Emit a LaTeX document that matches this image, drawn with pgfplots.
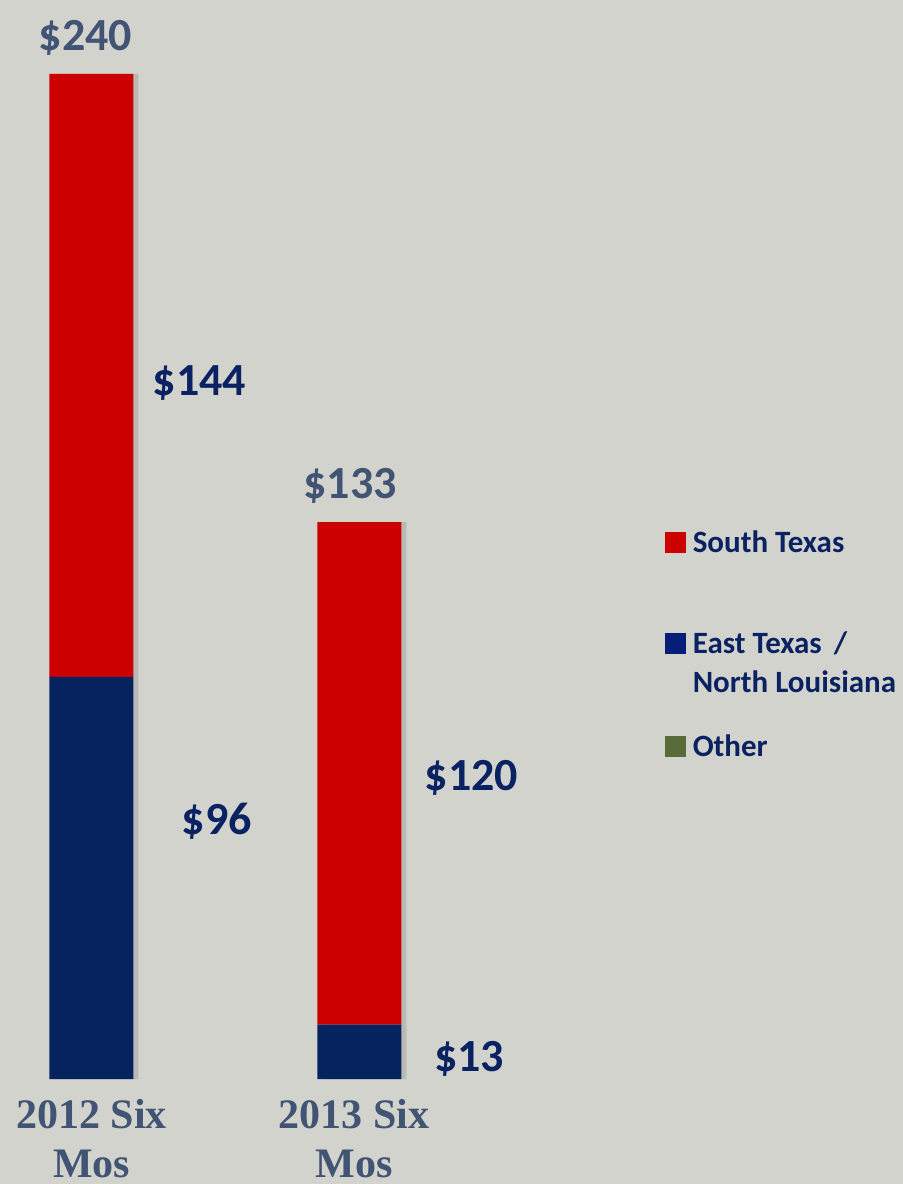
\documentclass[border=0pt]{standalone}
\usepackage{pgfplots}
\pgfplotsset{compat=1.18}
\usepackage{fontspec}
\setmainfont{Carlito}
\newfontfamily\timesfont{Liberation Serif}
\usetikzlibrary{shadows}
\definecolor{bg}{HTML}{D3D3CE}
\definecolor{barred}{HTML}{CC0000}
\definecolor{barblue}{HTML}{062360}
\definecolor{navy}{HTML}{0B2262}
\definecolor{slate}{HTML}{415473}
\definecolor{olive}{HTML}{5A6B3A}
\begin{document}
\begin{tikzpicture}
\fill[bg] (0,0) rectangle (451.5pt,592pt);
\useasboundingbox (0,0) rectangle (451.5pt,592pt);
\begin{axis}[
  at={(0pt,52.5pt)}, anchor=south west,
  scale only axis, width=451.5pt, height=502.5pt,
  xmin=-0.3414, xmax=3.028, ymin=0, ymax=240,
  ybar stacked, bar width=42pt,
  axis line style={draw=none}, tick style={draw=none},
  major tick length=0pt,
  ytick=\empty,
  xtick={0,0.98},
  xticklabels={{2012 Six\\Mos},{2013 Six\\Mos}},
  xticklabel style={align=center, font=\timesfont\bfseries\fontsize{21}{24.5}\selectfont, text=slate, anchor=north, inner sep=0pt, yshift=-10pt},
  clip=false,
  legend style={at={(axis description cs:0.7364,0.5443)}, anchor=north west,
    draw=none, fill=none, inner sep=0pt, outer sep=0pt, row sep=0pt, column sep=3.5pt,
    nodes={inner sep=0pt, text height=10pt, text=navy, font=\bfseries\fontsize{15.5}{18}\selectfont},
    cells={anchor=base west}},
]
\addlegendimage{legend image code/.code={\fill[barred] (0pt,0pt) rectangle (10pt,10pt);}}
\addlegendentry[text depth=40.5pt]{South Texas}
\addlegendimage{legend image code/.code={\fill[barblue!85!blue] (0pt,0pt) rectangle (10pt,10pt);}}
\addlegendentry[text depth=9.5pt]{East Texas \,/}
\addlegendimage{empty legend}
\addlegendentry[text depth=21.5pt]{North Louisiana}
\addlegendimage{legend image code/.code={\fill[olive] (0pt,0pt) rectangle (10pt,10pt);}}
\addlegendentry[text depth=0pt]{Other}

\addplot[fill=barblue, draw=none, forget plot, drop shadow={shadow xshift=2.5pt, shadow yshift=0pt, opacity=0.3}] coordinates {(0,96) (1,13)};
\addplot[fill=barred, draw=none, forget plot, drop shadow={shadow xshift=2.5pt, shadow yshift=0pt, opacity=0.3}] coordinates {(0,144) (1,120)};

\tikzset{lab/.style={anchor=base, font=\bfseries\fontsize{23}{27}\selectfont}}
\node[lab, text=slate] at (axis cs:-0.022,245.7) {\$240};
\node[lab, text=navy] at (axis cs:0.403,163.3) {\$144};
\node[lab, text=navy] at (axis cs:0.468,58.3) {\$96};
\node[lab, text=slate] at (axis cs:0.965,138.7) {\$133};
\node[lab, text=navy] at (axis cs:1.418,69.0) {\$120};
\node[lab, text=navy] at (axis cs:1.409,1.9) {\$13};
\end{axis}
\end{tikzpicture}
\end{document}
